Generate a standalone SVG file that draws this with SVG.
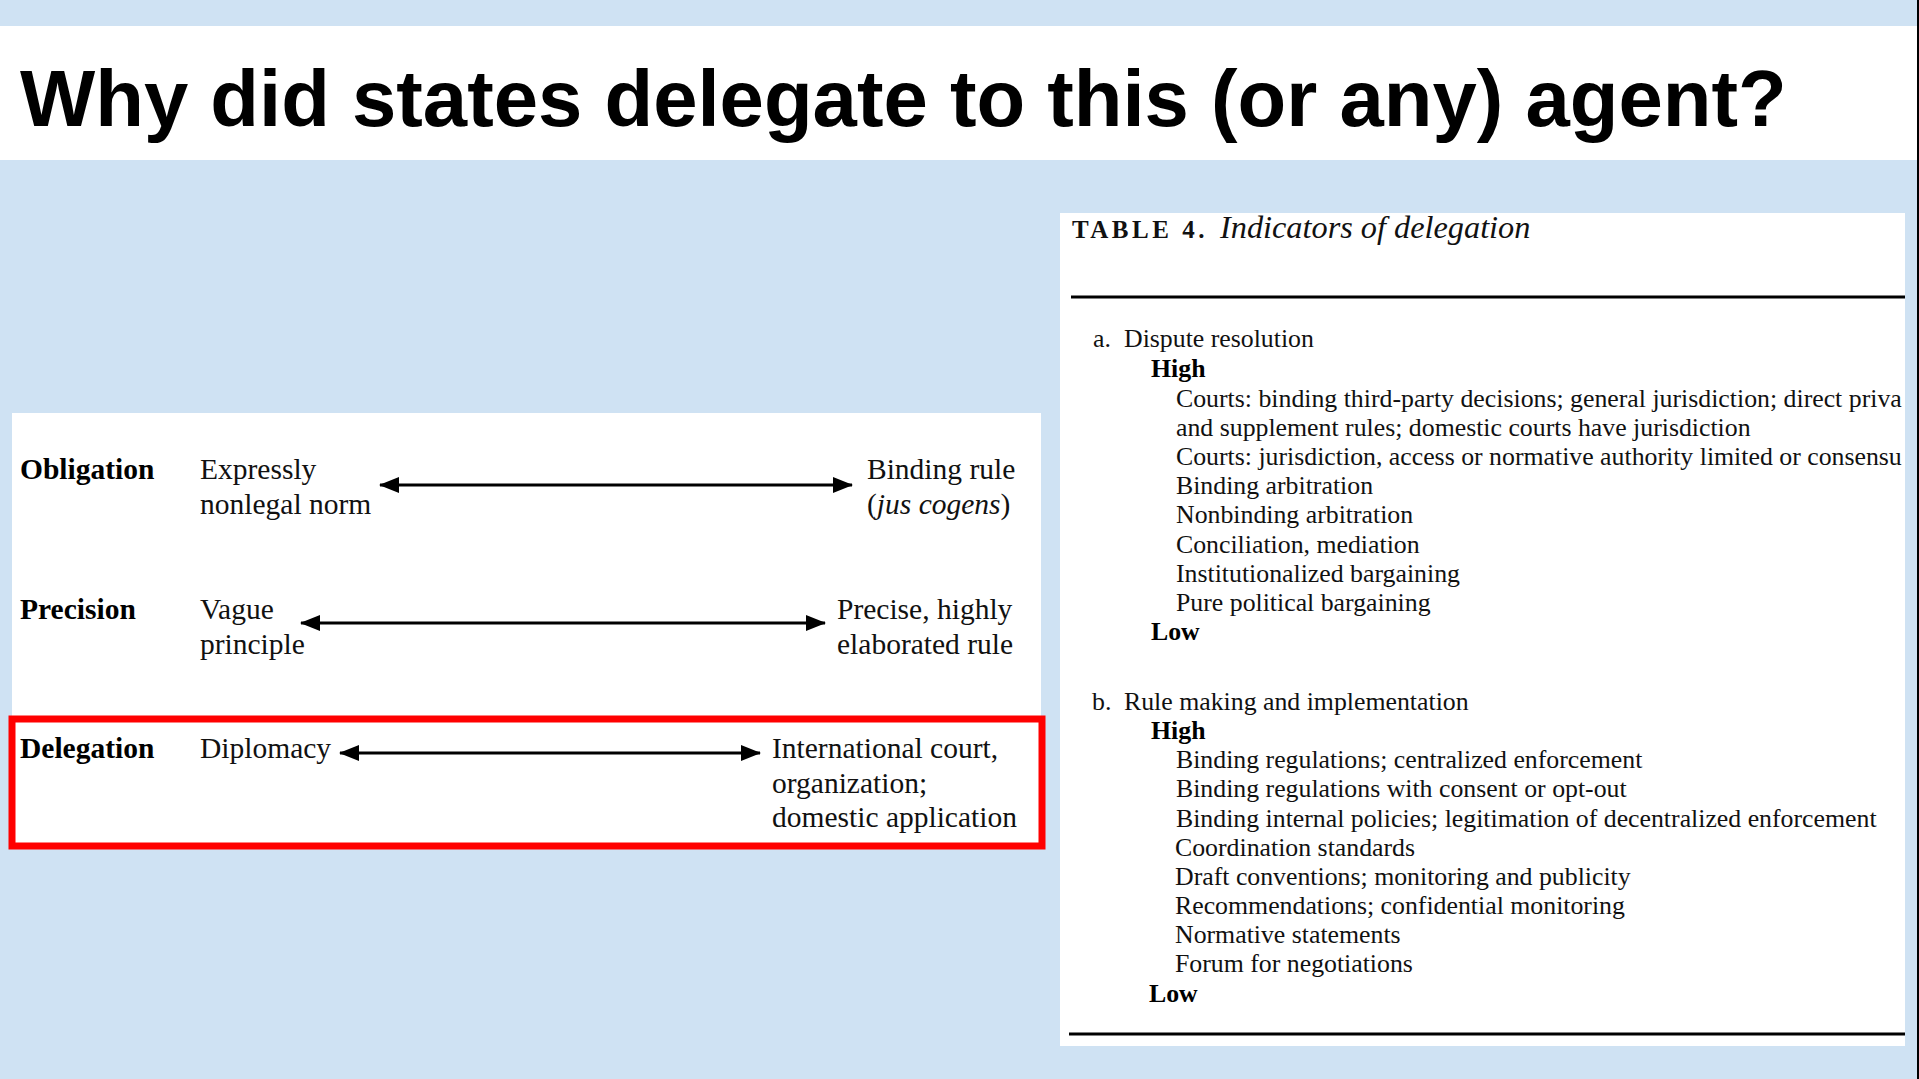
<svg xmlns="http://www.w3.org/2000/svg" width="1919" height="1079" viewBox="0 0 1919 1079">
  <defs>
    <style>
      .bg { fill: #cfe2f3; }
      .panel { fill: #ffffff; }
      .title { font-family: "Liberation Sans", Arial, sans-serif; font-weight: bold; font-size: 79.7px; fill: #000; }
      .lbl { font-family: "Liberation Serif", "Times New Roman", serif; font-size: 29.5px; fill: #111; }
      .lbl-b { font-family: "Liberation Serif", "Times New Roman", serif; font-size: 29.5px; font-weight: bold; fill: #000; }
      .tb { font-family: "Liberation Serif", "Times New Roman", serif; font-size: 25.8px; fill: #111; }
      .tb-b { font-family: "Liberation Serif", "Times New Roman", serif; font-size: 25.8px; font-weight: bold; fill: #000; }
      .cap { font-family: "Liberation Serif", "Times New Roman", serif; font-size: 25px; font-weight: bold; letter-spacing: 3.5px; fill: #111; }
      .capi { font-family: "Liberation Serif", "Times New Roman", serif; font-size: 32.3px; font-style: italic; fill: #111; }
      .axis { stroke: #000; stroke-width: 3; fill: none; marker-start: url(#head-start); marker-end: url(#head-end); }
      .rule { stroke: #000; stroke-width: 3; }
    </style>
    <marker id="head-end" viewBox="0 0 20 16" refX="19" refY="8" markerWidth="20" markerHeight="16" markerUnits="userSpaceOnUse" orient="auto">
      <path d="M0,0 L20,8 L0,16 Z" fill="#000"/>
    </marker>
    <marker id="head-start" viewBox="0 0 20 16" refX="1" refY="8" markerWidth="20" markerHeight="16" markerUnits="userSpaceOnUse" orient="auto">
      <path d="M20,0 L0,8 L20,16 Z" fill="#000"/>
    </marker>
  </defs>

  <!-- page background -->
  <rect class="bg" x="0" y="0" width="1919" height="1079"/>

  <!-- title band -->
  <g id="title">
    <rect class="panel" x="0" y="26" width="1917" height="134"/>
    <rect x="1917" y="0" width="2" height="1079" fill="#000"/>
    <text class="title" x="20" y="126">Why did states delegate to this (or any) agent?</text>
  </g>

  <!-- left panel: legalization dimensions -->
  <g id="dimensions">
    <rect class="panel" x="12" y="413" width="1029" height="435"/>
  </g>

  <g id="obligation">
    <text class="lbl-b" x="20" y="479">Obligation</text>
    <text class="lbl" x="200" y="479">Expressly</text>
    <text class="lbl" x="200" y="514">nonlegal norm</text>
    <text class="lbl" x="867" y="479">Binding rule</text>
    <text class="lbl" x="867" y="514">(<tspan font-style="italic">jus cogens</tspan>)</text>
  </g>

  <g id="precision">
    <text class="lbl-b" x="20" y="619">Precision</text>
    <text class="lbl" x="200" y="619">Vague</text>
    <text class="lbl" x="200" y="654">principle</text>
    <text class="lbl" x="837" y="619">Precise, highly</text>
    <text class="lbl" x="837" y="654">elaborated rule</text>
  </g>

  <g id="delegation">
    <rect x="12" y="719" width="1030" height="127" fill="none" stroke="#ff0000" stroke-width="7"/>
    <text class="lbl-b" x="20" y="758">Delegation</text>
    <text class="lbl" x="200" y="758">Diplomacy</text>
    <text class="lbl" x="772" y="758">International court,</text>
    <text class="lbl" x="772" y="793">organization;</text>
    <text class="lbl" x="772" y="827">domestic application</text>
  </g>

  <!-- continuum arrows -->
  <g id="connectors">
    <line class="axis" x1="380" y1="485" x2="852" y2="485"/>
    <line class="axis" x1="301" y1="623" x2="825" y2="623"/>
    <line class="axis" x1="340" y1="753" x2="760" y2="753"/>
  </g>

  <!-- right panel: table of delegation indicators -->
  <g id="indicators-table">
    <rect class="panel" x="1060" y="213" width="845" height="833"/>
    <text class="cap" x="1072" y="238">TABLE 4.</text>
    <text class="capi" x="1220" y="238">Indicators of delegation</text>
    <line class="rule" x1="1071" y1="297" x2="1905" y2="297"/>

    <text class="tb" x="1093" y="347">a.</text>
    <text class="tb" x="1124" y="347">Dispute resolution</text>
    <text class="tb-b" x="1151" y="377">High</text>
    <text class="tb" x="1176" y="407">Courts: binding third-party decisions; general jurisdiction; direct priva</text>
    <text class="tb" x="1176" y="436">and supplement rules; domestic courts have jurisdiction</text>
    <text class="tb" x="1176" y="465">Courts: jurisdiction, access or normative authority limited or consensu</text>
    <text class="tb" x="1176" y="494">Binding arbitration</text>
    <text class="tb" x="1176" y="523">Nonbinding arbitration</text>
    <text class="tb" x="1176" y="553">Conciliation, mediation</text>
    <text class="tb" x="1176" y="582">Institutionalized bargaining</text>
    <text class="tb" x="1176" y="611">Pure political bargaining</text>
    <text class="tb-b" x="1151" y="640">Low</text>

    <text class="tb" x="1092" y="710">b.</text>
    <text class="tb" x="1124" y="710">Rule making and implementation</text>
    <text class="tb-b" x="1151" y="739">High</text>
    <text class="tb" x="1176" y="768">Binding regulations; centralized enforcement</text>
    <text class="tb" x="1176" y="797">Binding regulations with consent or opt-out</text>
    <text class="tb" x="1176" y="827">Binding internal policies; legitimation of decentralized enforcement</text>
    <text class="tb" x="1175" y="856">Coordination standards</text>
    <text class="tb" x="1175" y="885">Draft conventions; monitoring and publicity</text>
    <text class="tb" x="1175" y="914">Recommendations; confidential monitoring</text>
    <text class="tb" x="1175" y="943">Normative statements</text>
    <text class="tb" x="1175" y="972">Forum for negotiations</text>
    <text class="tb-b" x="1149" y="1002">Low</text>
    <line class="rule" x1="1069" y1="1034" x2="1905" y2="1034"/>
  </g>
</svg>
